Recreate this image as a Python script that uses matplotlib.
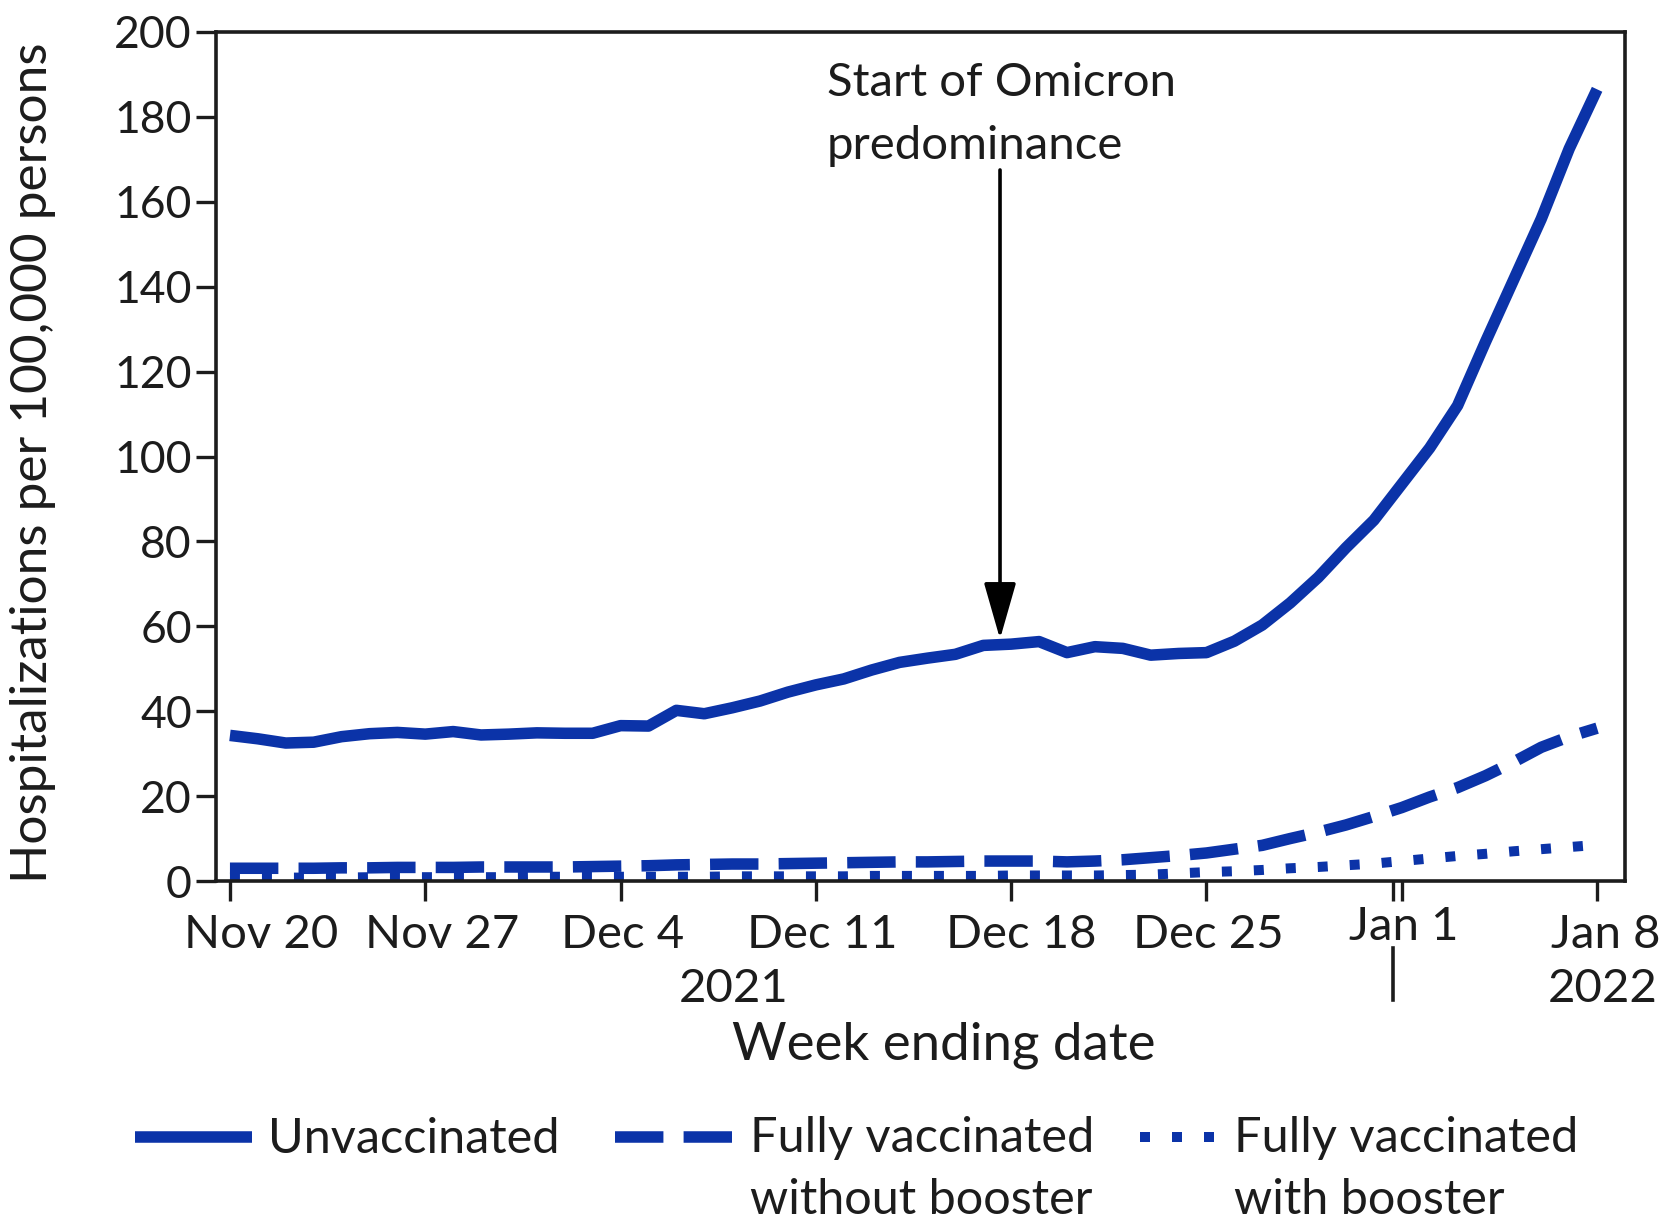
import numpy as np
import matplotlib
matplotlib.use("Agg")
import matplotlib.pyplot as plt
from matplotlib.lines import Line2D
from matplotlib.transforms import ScaledTranslation, blended_transform_factory

# ---------------- data ----------------
day_index = list(range(50))  # days since Nov 20, 2021
unvaccinated = [34.3, 33.5, 32.5, 32.7, 34.0, 34.7, 35.0, 34.6, 35.2, 34.4,
                34.6, 34.9, 34.8, 34.8, 36.6, 36.5, 40.2, 39.4, 40.8, 42.4,
                44.5, 46.2, 47.6, 49.7, 51.5, 52.5, 53.4, 55.5, 55.8, 56.4,
                53.8, 55.2, 54.8, 53.2, 53.6, 53.8, 56.5, 60.3, 65.5, 71.5,
                78.5, 85.0, 93.5, 102.0, 112.0, 127.0, 141.5, 156.0, 172.5, 186.5]
vacc_no_booster = [3.0, 3.0, 3.0, 3.0, 3.1, 3.1, 3.2, 3.2, 3.2, 3.3,
                   3.3, 3.3, 3.3, 3.4, 3.5, 3.6, 3.8, 3.9, 4.0, 4.0,
                   4.1, 4.2, 4.3, 4.4, 4.5, 4.5, 4.6, 4.7, 4.7, 4.7,
                   4.5, 4.7, 5.0, 5.5, 6.0, 6.6, 7.5, 8.4, 10.0, 11.5,
                   13.2, 15.2, 17.3, 19.8, 22.0, 24.8, 28.0, 31.5, 34.0, 36.0]
vacc_booster = [0.8, 0.8, 0.8, 0.8, 0.8, 0.9, 0.9, 0.9, 0.9, 0.9,
                0.9, 1.0, 1.0, 1.0, 1.0, 1.0, 1.0, 1.0, 1.1, 1.1,
                1.1, 1.1, 1.1, 1.2, 1.2, 1.2, 1.2, 1.2, 1.3, 1.3,
                1.3, 1.3, 1.4, 1.5, 1.8, 2.1, 2.3, 2.6, 3.0, 3.3,
                3.7, 4.1, 4.7, 5.3, 5.9, 6.4, 7.0, 7.5, 8.0, 8.5]

tick_days = [0, 7, 14, 21, 28, 35, 42, 49]
tick_labels = ["Nov 20", "Nov 27", "Dec 4", "Dec 11", "Dec 18", "Dec 25", "Jan 1", "Jan 8"]
y_ticks = list(range(0, 201, 20))
year_labels = ["2021", "2022"]
year_label_days = [18.05, 49.2]
year_break_day = 41.7
series_labels = ["Unvaccinated", "Fully vaccinated\nwithout booster", "Fully vaccinated\nwith booster"]
omicron_day = 27.6
omicron_tip = 57.0
omicron_start = 167.5
omicron_label = "Start of Omicron\npredominance"

# ---------------- style ----------------
W, H = 1668, 1221
BLUE = "#0b33a8"
TXT = "#1c1c1c"
plt.rcParams["font.family"] = ["Lato", "DejaVu Sans"]

LW = 8.3
styles = [
    dict(linestyle="-", linewidth=LW, solid_capstyle="butt", solid_joinstyle="round"),
    dict(linestyle=(0, (4.2, 1.75)), linewidth=LW, dash_capstyle="butt"),
    dict(linestyle=(0, (1.0, 2.2)), linewidth=7.2, dash_capstyle="butt"),
]

fig = plt.figure(figsize=(W / 100, H / 100), dpi=100)
ax = fig.add_axes([216 / W, 1 - 881 / H, (1625 - 216) / W, (881 - 32) / H])

series = [unvaccinated, vacc_no_booster, vacc_booster]
for vals, st, z in zip(series, styles, [4, 3, 2]):
    ax.plot(day_index, vals, color=BLUE, zorder=z, **st)

ax.set_xlim(-0.5, 50)
ax.set_ylim(0, 200)

for s in ax.spines.values():
    s.set_linewidth(2.6)
    s.set_color(TXT)

ax.set_yticks(y_ticks)
ax.set_yticklabels([str(v) for v in y_ticks])
ax.set_xticks(tick_days)
ax.set_xticklabels(tick_labels)
ax.set_xticks([year_break_day], minor=True)
ax.tick_params(axis="both", which="both", direction="out", length=14.4, width=2.4, color=TXT)
ax.tick_params(axis="x", which="major", labelsize=34, pad=9, labelcolor=TXT)
ax.tick_params(axis="y", which="major", labelsize=32, pad=3, labelcolor=TXT)

# small horizontal offsets of the date labels (px) as in the original layout
label_dx = [31, 17, 2, 6, 10, 2, 2, 9]
for lab, dx in zip(ax.get_xticklabels(), label_dx):
    dy = 8 if lab.get_text() == "Jan 1" else 0
    lab.set_transform(lab.get_transform() + ScaledTranslation(dx / 100, dy / 100, fig.dpi_scale_trans))

# year labels and year separator
bt = blended_transform_factory(ax.transData, fig.transFigure)
for yl, yd in zip(year_labels, year_label_days):
    ax.text(yd, 1 - 989 / H, yl, transform=bt, ha="center", va="center",
            fontsize=34, color=TXT, clip_on=False)
ax.plot([year_break_day, year_break_day], [1 - 948 / H, 1 - 1000 / H], transform=bt,
        color=TXT, lw=2.6, clip_on=False)

# axis labels
fig.text(944 / W, 1 - 1045 / H, "Week ending date", ha="center", va="center",
         fontsize=38, color=TXT)
fig.text(33 / W, 1 - 463 / H, "Hospitalizations per 100,000 persons", ha="center",
         va="center", rotation=90, fontsize=37, color=TXT)

# annotation
ax.annotate("", xy=(omicron_day, omicron_tip), xytext=(omicron_day, omicron_start),
            arrowprops=dict(arrowstyle="-|>,head_length=1.75,head_width=0.5",
                            mutation_scale=20, color="black", lw=2.6,
                            shrinkA=0, shrinkB=0))
ax.text(21.4, 193, omicron_label, ha="left", va="top", fontsize=34, color=TXT,
        linespacing=1.62)

# legend (handle aligned with first text line)
leg_y = 1 - 1137 / H
first_base = 1153
line_step = 61
handle_spans = [(135, 252), (615, 732), (1140, 1222)]
text_x = [268, 750, 1234]
for (x0, x1), tx, st, lab in zip(handle_spans, text_x, styles, series_labels):
    fig.add_artist(Line2D([x0 / W, x1 / W], [leg_y, leg_y], transform=fig.transFigure,
                          color=BLUE, **st))
    nlines = lab.count("\n") + 1
    by = first_base + (nlines - 1) * line_step
    fig.text(tx / W, 1 - by / H, lab, ha="left", va="baseline", fontsize=35, color=TXT,
             linespacing=1.5)

fig.savefig("out.png", dpi=100, facecolor="white")
